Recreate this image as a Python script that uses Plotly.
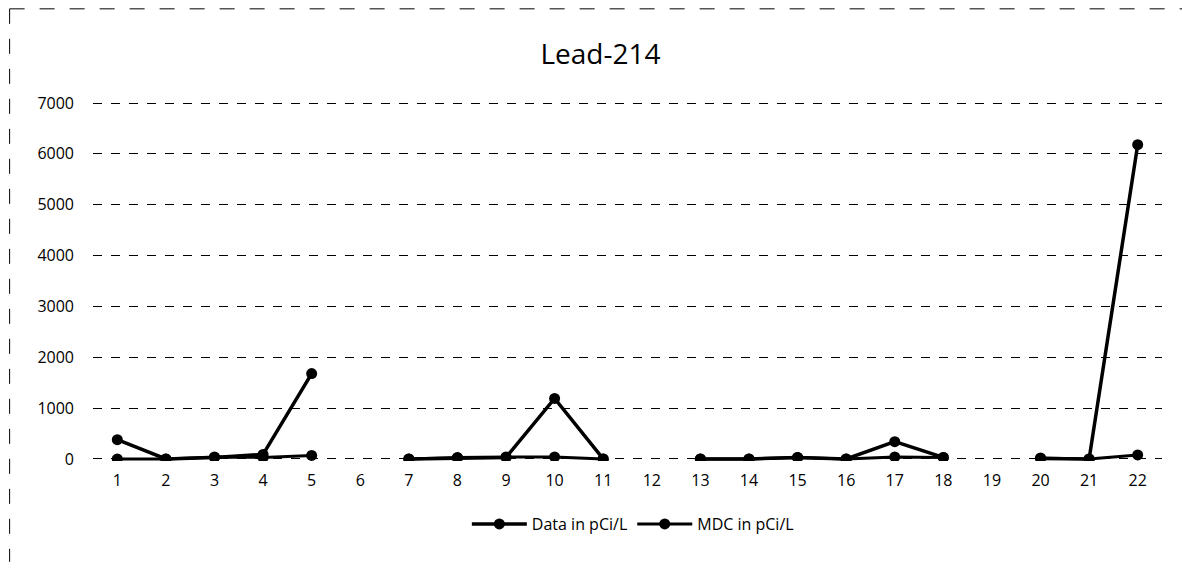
import plotly.graph_objects as go

categories = [str(i) for i in range(1, 23)]
data_pci = [380, 0, 30, 90, 1680, None, 0, 20, 30, 1190, 0, None,
            0, 0, 30, 0, 340, 30, None, 10, 0, 6180]
mdc_pci = [0, 0, 40, 30, 70, None, 0, 30, 40, 40, 0, None,
           0, 0, 30, 0, 40, 30, None, 20, 0, 80]
y_ticks = [0, 1000, 2000, 3000, 4000, 5000, 6000, 7000]

font = "Open Sans"

fig = go.Figure()
fig.add_trace(go.Scatter(x=categories, y=data_pci, name="Data in pCi/L",
                         mode="lines+markers",
                         line=dict(color="black", width=3.5),
                         marker=dict(color="black", size=11),
                         connectgaps=False))
fig.add_trace(go.Scatter(x=categories, y=mdc_pci, name="MDC in pCi/L",
                         mode="lines+markers",
                         line=dict(color="black", width=3),
                         marker=dict(color="black", size=11),
                         connectgaps=False))

fig.update_layout(
    width=1182, height=572,
    margin=dict(l=93, r=20, t=101, b=111),
    paper_bgcolor="white", plot_bgcolor="white",
    font=dict(family=font, color="black", size=16),
    title=dict(text="Lead-214", x=0.508, xanchor="center", y=0.905, yanchor="middle",
               font=dict(family=font, size=28, color="black")),
    showlegend=True,
    legend=dict(orientation="h", x=0.505, xanchor="center", y=-0.175, yanchor="middle",
                itemwidth=55,
                font=dict(family=font, size=16, color="black")),
    xaxis=dict(type="category", categoryorder="array", categoryarray=categories,
               range=[-0.5, 21.5],
               showgrid=False, showline=False, zeroline=False,
               tickfont=dict(size=16), ticks="", ticklabelstandoff=8),
    yaxis=dict(range=[-40, 7040], tickvals=y_ticks, showgrid=True,
               gridcolor="black", gridwidth=1, griddash="dash",
               zeroline=False, showline=False, ticks="",
               tickfont=dict(size=16), ticklabelstandoff=18),
    shapes=[
        dict(type="line", xref="paper", yref="paper", x0=-0.078, x1=1.02,
             y0=1.256, y1=1.256, line=dict(color="black", width=1, dash="longdash")),
        dict(type="line", xref="paper", yref="paper", x0=-0.078, x1=-0.078,
             y0=1.256, y1=-0.28, line=dict(color="black", width=1, dash="longdash")),
    ],
)

fig.write_html("out.html")
